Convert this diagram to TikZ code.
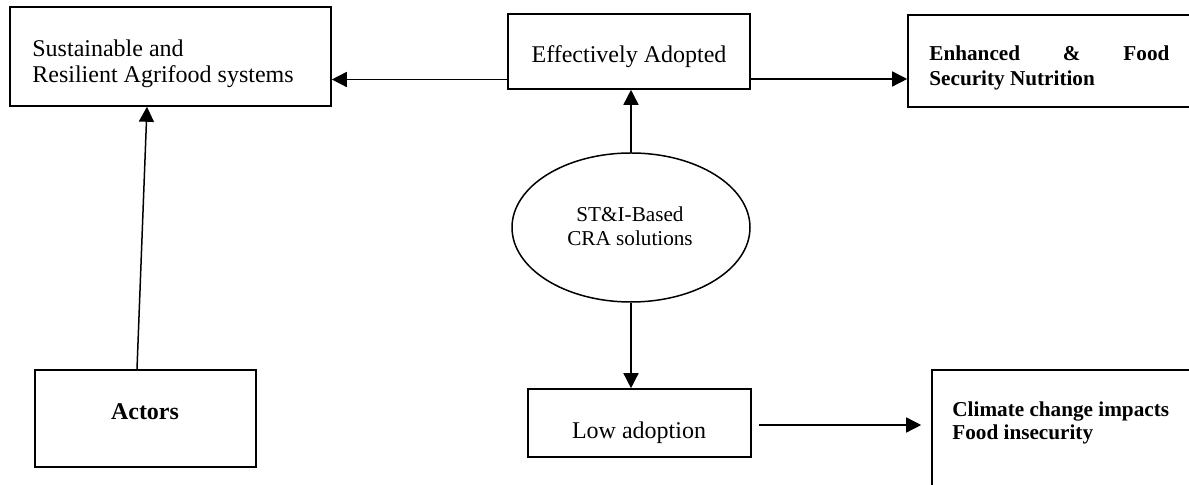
\documentclass[tikz,border=0pt]{standalone}
\usepackage{fontspec}
\setmainfont{Liberation Serif}
\usetikzlibrary{arrows.meta,shapes.geometric}
\begin{document}
\begin{tikzpicture}[x=0.5pt,y=-0.5pt,
  box/.style={draw, line width=0.8pt, rectangle, inner sep=0pt},
  arr/.style={-{Triangle[length=7.5pt,width=7.5pt]}, line width=0.75pt},
  txt/.style={inner sep=0pt, font=\fontsize{12}{13}\selectfont},
  stxt/.style={inner sep=0pt, font=\fontsize{10.6}{12}\selectfont},
  btxt/.style={inner sep=0pt, font=\fontsize{10.6}{12}\selectfont\bfseries},
  bbtxt/.style={inner sep=0pt, font=\fontsize{12}{13}\selectfont\bfseries},
]
\useasboundingbox (0,0) rectangle (1189,485);
\clip (0,0) rectangle (1189,485);

% boxes
\node[box, minimum width=160.5pt, minimum height=49.5pt] (sust) at (170.5,56.5) {};
\node[box, minimum width=121pt, minimum height=37.5pt] (eff) at (629,51.5) {};
\node[box, minimum width=143.5pt, minimum height=46pt] (enh) at (1051.5,61) {};
\node[draw, ellipse, line width=0.75pt, inner sep=0pt, minimum width=119pt, minimum height=74.5pt] (ell) at (631,227.5) {};
\node[box, minimum width=111.5pt, minimum height=34pt] (low) at (639.5,423) {};
\node[box, minimum width=131.5pt, minimum height=62.5pt] (clim) at (1063.5,432.5) {};
\node[box, minimum width=110.5pt, minimum height=48.5pt] (act) at (145.5,418.5) {};

% texts
\node[txt, anchor=base west] (sustA) at (32,57) {Sustainable and};
\node[txt, anchor=base west] (sustB) at (32,83) {Resilient Agrifood systems};
\node[txt, anchor=base] (effT) at (629,63) {Effectively Adopted};
\node[btxt, anchor=base west] (enhA) at (929,61) {\hbox to 120pt{Enhanced\hfill\&\hfill Food}};
\node[btxt, anchor=base west] (enhB) at (929,86) {Security Nutrition};
\node[stxt, anchor=base] (ellA) at (630,222) {ST\&I-Based};
\node[stxt, anchor=base] (ellB) at (630,246) {CRA solutions};
\node[txt, anchor=base] (lowT) at (639,439) {Low adoption};
\node[btxt, anchor=base west] (climA) at (952,417) {Climate change impacts};
\node[btxt, anchor=base west] (climB) at (952,440) {Food insecurity};
\node[bbtxt, anchor=base] (actT) at (145,420) {Actors};

% connectors
\draw[arr] (eff.west |- 0,79.5) -- (sust.east |- 0,79.5);
\draw[arr] (eff.east |- 0,79) -- (enh.west |- 0,79);
\draw[arr] (ell.north) -- (eff.south -| ell.north);
\draw[arr] (ell.south) -- (low.north -| ell.south);
\draw[arr, shorten <=3.5pt, shorten >=5pt] (low.east |- 0,425) -- (clim.west |- 0,425);
\draw[arr] ([xshift=-4.25pt]act.north) -- ([xshift=-11.75pt]sust.south);
\end{tikzpicture}
\end{document}
